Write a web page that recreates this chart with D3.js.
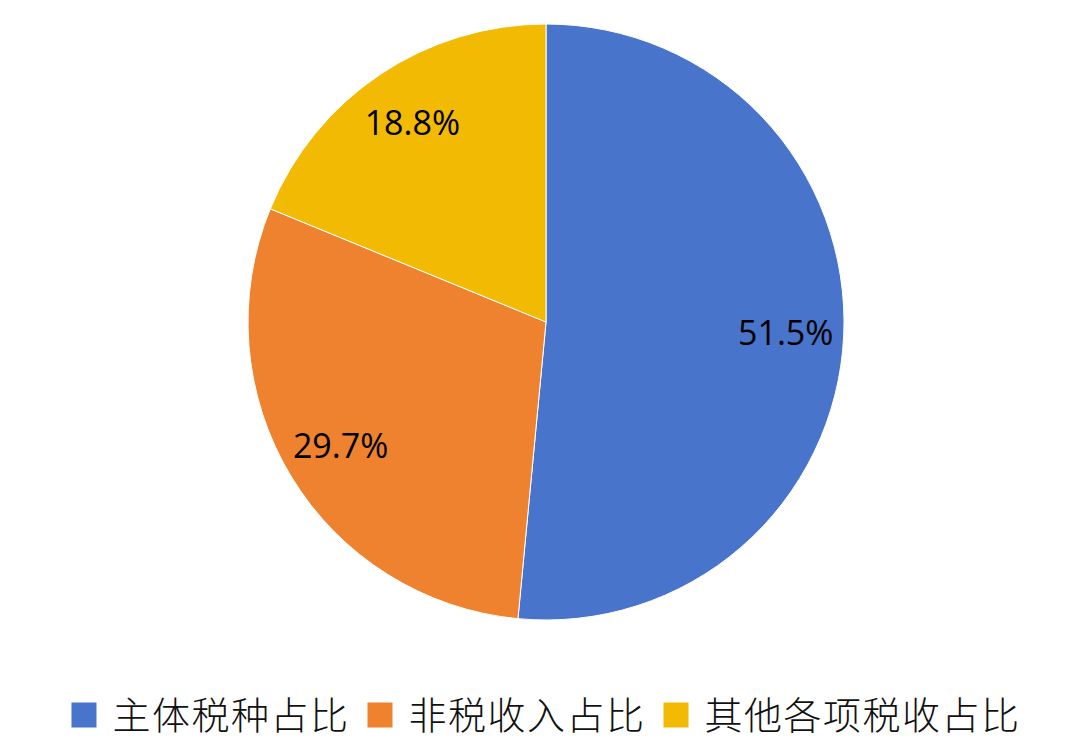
<!DOCTYPE html>
<html>
<head>
<meta charset="utf-8">
<script src="https://cdn.jsdelivr.net/npm/d3@7"></script>
<style>
  html, body { margin: 0; padding: 0; background: #fff; }
  svg { display: block; }
</style>
</head>
<body>
<div id="chart"></div>
<script>
// datos del gráfico
const categories = ['主体税种占比', '非税收入占比', '其他各项税收占比'];
const shares = [51.5, 29.7, 18.8];
const colors = ['#4874CB', '#EE822F', '#F2BA02'];

const width = 1080;
const height = 748;

const svg = d3.select('#chart')
  .append('svg')
  .attr('width', width)
  .attr('height', height);

// centro y radio de la tarta
const cx = 546;
const cy = 322;
const radius = 298;

const pie = d3.pie()
  .sort(null)
  .value((d) => d.value);

const data = categories.map((c, i) => ({ name: c, value: shares[i], color: colors[i] }));
const arcs = pie(data);

const arc = d3.arc().innerRadius(0).outerRadius(radius);
const labelArc = d3.arc().innerRadius(240).outerRadius(240);

const groupPie = svg.append('g')
  .attr('transform', `translate(${cx}, ${cy})`);

groupPie.selectAll('.slice')
  .data(arcs)
  .enter()
  .append('path')
  .attr('class', 'slice')
  .attr('d', arc)
  .attr('fill', (d) => d.data.color)
  .attr('stroke', '#fff')
  .attr('stroke-width', 1);

// etiquetas de porcentaje
groupPie.selectAll('.label')
  .data(arcs)
  .enter()
  .append('text')
  .attr('class', 'label')
  .attr('transform', (d) => `translate(${labelArc.centroid(d)})`)
  .attr('text-anchor', 'middle')
  .attr('dy', '0.35em')
  .style('font-family', '"Open Sans", "Noto Sans", sans-serif')
  .style('font-size', '34px')
  .style('fill', '#000')
  .text((d) => d3.format('.1f')(d.data.value) + '%');

// leyenda
const legend = svg.append('g').attr('class', 'legend');
const boxSize = 25;
const boxGap = 16;
const itemGap = 18;
const legendY = 715;

const items = legend.selectAll('.item')
  .data(data)
  .enter()
  .append('g')
  .attr('class', 'item');

items.append('rect')
  .attr('width', boxSize)
  .attr('height', boxSize)
  .attr('y', legendY - boxSize / 2)
  .attr('fill', (d) => d.color);

items.append('text')
  .attr('x', boxSize + boxGap)
  .attr('y', legendY)
  .attr('dy', '0.36em')
  .style('font-family', '"Noto Sans CJK SC", sans-serif')
  .style('font-size', '38px')
  .style('font-weight', 300)
  .style('letter-spacing', '1.5px')
  .style('fill', '#111')
  .text((d) => d.name);

// colocar los elementos uno detrás de otro y centrar bajo la tarta
let offset = 0;
const offsets = [];
items.each(function () {
  offsets.push(offset);
  const w = d3.select(this).select('text').node().getComputedTextLength();
  offset += boxSize + boxGap + w + itemGap;
});
const total = offset - itemGap;
const startX = cx - total / 2;
items.attr('transform', (d, i) => `translate(${startX + offsets[i]}, 0)`);
</script>
</body>
</html>
